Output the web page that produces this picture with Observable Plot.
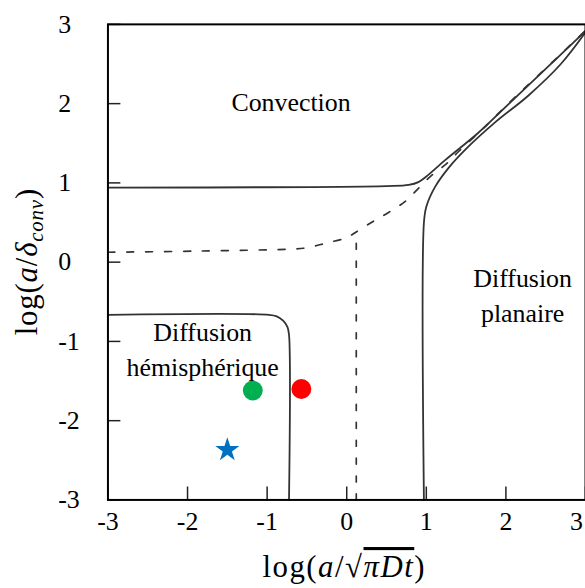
<!DOCTYPE html>
<html><head><meta charset="utf-8">
<script src="https://cdn.jsdelivr.net/npm/d3@7"></script>
<script src="https://cdn.jsdelivr.net/npm/@observablehq/plot@0.6"></script>
<style>body{margin:0;overflow:hidden;background:#fff}</style>
</head><body><div id="chart"></div>
<script>
// Axis ticks
const tickValues = [-3, -2, -1, 0, 1, 2, 3];
const xTicksMain = [-3, -2, -1, 0, 1, 2];
const xTicksEdge = [3];

// Convection boundary (solid)
const convectionX = [-3, 0.5, 0.78, 0.9, 1.0, 1.24, 1.65, 2.06, 2.49, 2.9, 3.0];
const convectionY = [0.94, 0.96, 0.975, 1.01, 1.08, 1.29, 1.63, 2.02, 2.43, 2.82, 2.92];

// Planar diffusion boundary (solid)
const planarX = [0.97, 0.97, 1.0, 1.11, 1.28, 1.49, 1.86, 2.28, 2.69, 3.0];
const planarY = [-3, 0.5, 0.7, 0.95, 1.19, 1.42, 1.76, 2.1, 2.5, 2.9];

// Transition curve (dashed)
const dashedX = [-3, -1.85, -0.76, -0.51, -0.26, 0, 0.11, 0.31, 0.53, 0.74, 0.88, 1.05, 1.24, 1.4, 1.74, 2.06, 2.4, 3.0];
const dashedY = [0.125, 0.14, 0.163, 0.18, 0.24, 0.31, 0.375, 0.5, 0.63, 0.77, 0.91, 1.08, 1.23, 1.39, 1.71, 2.03, 2.35, 2.92];

// Vertical dashed line
const vDashedX = [0.12, 0.12];
const vDashedY = [-3, 0.375];

// Hemispheric diffusion boundary (solid, rounded corner)
const hemiX = [-3, -0.975, -0.879, -0.799, -0.744, -0.725, -0.725];
const hemiY = [-0.665, -0.665, -0.684, -0.739, -0.82, -0.916, -3];

// Experimental points
const pointX = [-1.18, -0.57, -1.5];
const pointY = [-1.62, -1.6, -2.37];
const pointColor = ["#00B050", "#FF0000", "#0070C0"];
const pointSymbol = ["circle", "circle", "star"];
const pointR = [10, 10, 7.6];

// Region labels
const labelText = ["Convection", "Diffusion\nplanaire", "Diffusion\nhémisphérique"];
const labelX = [-0.7, 2.21, -1.81];
const labelY = [2.05, -0.39, -1.08];

const zip = (xs, ys) => xs.map((x, i) => ({x, y: ys[i]}));
const points = pointX.map((x, i) => ({x, y: pointY[i], color: pointColor[i], symbol: pointSymbol[i], r: pointR[i]}));
const labels = labelText.map((t, i) => ({t, x: labelX[i], y: labelY[i]}));

const serif = "Liberation Serif";
const lineColor = "#333";

const plot = Plot.plot({
  width: 588,
  height: 588,
  marginLeft: 108,
  marginRight: 0,
  marginTop: 24,
  marginBottom: 86,
  style: {fontFamily: serif, fontSize: "26px", color: "#000", background: "#fff"},
  x: {domain: [-3, 3]},
  y: {domain: [-3, 3]},
  r: {type: "identity"},
  symbol: {type: "identity"},
  marks: [
    Plot.line(zip(convectionX, convectionY), {x: "x", y: "y", stroke: lineColor, strokeWidth: 1.8, curve: "catmull-rom"}),
    Plot.line(zip(planarX, planarY), {x: "x", y: "y", stroke: lineColor, strokeWidth: 1.8, curve: "catmull-rom"}),
    Plot.line(zip(dashedX, dashedY), {x: "x", y: "y", stroke: lineColor, strokeWidth: 1.7, strokeDasharray: "7,12", curve: "catmull-rom"}),
    Plot.line(zip(vDashedX, vDashedY), {x: "x", y: "y", stroke: lineColor, strokeWidth: 1.7, strokeDasharray: "6,12"}),
    Plot.line(zip(hemiX, hemiY), {x: "x", y: "y", stroke: lineColor, strokeWidth: 1.8, curve: "catmull-rom"}),
    Plot.dot(points, {x: "x", y: "y", fill: "color", symbol: "symbol", r: "r", stroke: null}),
    Plot.text(labels, {x: "x", y: "y", text: "t", fontSize: 26, fontFamily: serif, lineHeight: 1.35, fill: "#000"}),
    Plot.axisX({ticks: tickValues, tickSize: -13, stroke: "#222", strokeWidth: 1.5, text: null, label: null}),
    Plot.axisX({ticks: xTicksMain, tickFormat: d => String(d), tickSize: 0, tickPadding: 12, label: null}),
    Plot.axisX({ticks: xTicksEdge, tickFormat: d => String(d), tickSize: 0, tickPadding: 12, dx: -9, label: null}),
    Plot.axisY({ticks: tickValues, tickSize: -13, stroke: "#222", strokeWidth: 1.5, text: null, label: null}),
    Plot.axisY({ticks: tickValues, tickFormat: d => String(d), tickSize: 0, tickPadding: 50, textAnchor: "start", label: null}),
    Plot.frame({stroke: "#000", strokeWidth: 2})
  ]
});

const svg = d3.select(plot);
// x-axis label
const xl = svg.append("text")
  .attr("x", 346).attr("y", 580)
  .attr("text-anchor", "middle")
  .attr("font-family", serif)
  .attr("font-size", 31)
  .attr("letter-spacing", 1.5)
  .attr("fill", "#000");
xl.append("tspan").text("log(");
xl.append("tspan").attr("font-style", "italic").text("a");
xl.append("tspan").text("/√");
xl.append("tspan").attr("font-style", "italic").attr("text-decoration", "overline").text("πDt");
xl.append("tspan").text(")");

// y-axis label
const yl = svg.append("text")
  .attr("transform", "translate(37,263) rotate(-90)")
  .attr("text-anchor", "middle")
  .attr("font-family", serif)
  .attr("font-size", 31)
  .attr("letter-spacing", 0.8)
  .attr("fill", "#000");
yl.append("tspan").text("log(");
yl.append("tspan").attr("font-style", "italic").text("a");
yl.append("tspan").text("/");
yl.append("tspan").attr("font-style", "italic").text("δ");
yl.append("tspan").attr("font-style", "italic").attr("font-size", 21).attr("dy", 6).text("conv");
yl.append("tspan").attr("dy", -6).text(")");

document.getElementById("chart").appendChild(plot);
</script>
</body></html>
